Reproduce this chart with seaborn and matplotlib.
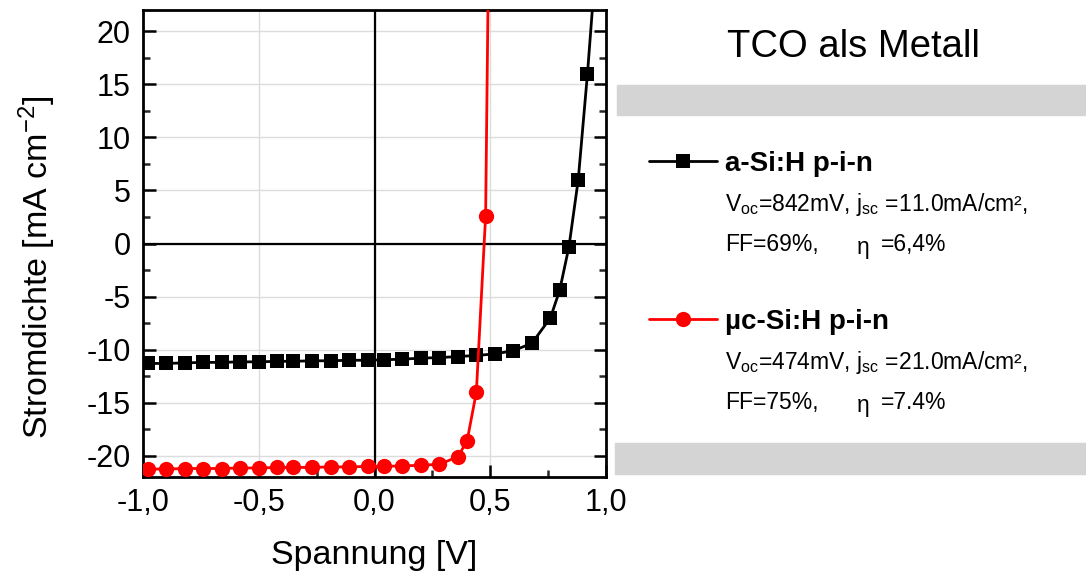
import matplotlib
matplotlib.use("Agg")
import matplotlib.pyplot as plt
from matplotlib.lines import Line2D
from matplotlib.patches import Rectangle
from matplotlib.ticker import MultipleLocator, FuncFormatter
import seaborn as sns
import pandas as pd

# J-V characteristics of two p-i-n cells (voltage in V, current density in mA/cm^2)
voltage_asi = [-0.98, -0.90, -0.82, -0.74, -0.66, -0.58, -0.50, -0.42, -0.35, -0.27,
               -0.19, -0.11, -0.03, 0.04, 0.12, 0.20, 0.28, 0.36, 0.44, 0.52,
               0.60, 0.68, 0.76, 0.80, 0.84, 0.88, 0.92, 0.96]
current_asi = [-11.3, -11.3, -11.25, -11.2, -11.2, -11.15, -11.15, -11.1, -11.1, -11.05,
               -11.05, -11.0, -11.0, -10.95, -10.9, -10.8, -10.75, -10.65, -10.55, -10.4,
               -10.1, -9.4, -7.0, -4.4, -0.3, 6.0, 16.0, 27.5]

voltage_uc = [-0.98, -0.90, -0.82, -0.74, -0.66, -0.58, -0.50, -0.42, -0.35, -0.27,
              -0.19, -0.11, -0.03, 0.04, 0.12, 0.20, 0.28, 0.36, 0.40, 0.44,
              0.48, 0.52]
current_uc = [-21.25, -21.25, -21.2, -21.2, -21.2, -21.15, -21.15, -21.1, -21.1, -21.1,
              -21.05, -21.05, -21.0, -21.0, -20.95, -20.9, -20.8, -20.1, -18.6, -14.0,
              2.6, 80.0]

series_names = ["a-Si:H p-i-n", "µc-Si:H p-i-n"]
series_colors = ["black", "red"]
series_markers = ["s", "o"]
series_info = [
    (r"V$_{\mathrm{oc}}$=842mV, j$_{\mathrm{sc}}$ =11.0mA/cm²,", "FF=69%,", "=6,4%"),
    (r"V$_{\mathrm{oc}}$=474mV, j$_{\mathrm{sc}}$ =21.0mA/cm²,", "FF=75%,", "=7.4%"),
]

x_ticks = [-1.0, -0.5, 0.0, 0.5, 1.0]
y_ticks = [-20, -15, -10, -5, 0, 5, 10, 15, 20]

sns.set_theme(style="white")
plt.rcParams["font.family"] = ["Liberation Sans", "DejaVu Sans"]
plt.rcParams["axes.unicode_minus"] = False
plt.rcParams["text.color"] = "black"
plt.rcParams["axes.labelcolor"] = "black"
plt.rcParams["mathtext.fontset"] = "custom"
plt.rcParams["mathtext.rm"] = "Liberation Sans"
plt.rcParams["mathtext.it"] = "Liberation Sans:italic"
plt.rcParams["mathtext.bf"] = "Liberation Sans:bold"

W, H = 1086, 581
fig = plt.figure(figsize=(W / 100, H / 100), dpi=100)


def fx(px):
    return px / W


def fy(py):
    return 1 - py / H


ax = fig.add_axes([fx(143), fy(477), fx(606) - fx(143), fy(10) - fy(477)])

df = pd.concat([
    pd.DataFrame({"U": voltage_asi, "J": current_asi, "cell": series_names[0]}),
    pd.DataFrame({"U": voltage_uc, "J": current_uc, "cell": series_names[1]}),
])

MS = {"s": 10.5, "o": 11}

for name, color, marker in zip(series_names, series_colors, series_markers):
    sub = df[df["cell"] == name]
    sns.lineplot(data=sub, x="U", y="J", ax=ax, color=color, marker=marker,
                 markersize=MS[marker], markeredgewidth=0,
                 linewidth=2.0, sort=False, estimator=None, legend=False, zorder=4)

ax.set_xlim(-1.0, 1.0)
ax.set_ylim(-22, 22)
ax.set_xticks(x_ticks)
ax.set_yticks(y_ticks)
ax.xaxis.set_minor_locator(MultipleLocator(0.25))
ax.yaxis.set_minor_locator(MultipleLocator(2.5))
ax.xaxis.set_major_formatter(FuncFormatter(lambda v, p: f"{v:.1f}".replace(".", ",")))
ax.yaxis.set_major_formatter(FuncFormatter(lambda v, p: f"{v:.0f}"))

ax.grid(True, which="major", color="#dcdcdc", linewidth=1.0, zorder=0)
ax.axhline(0, color="black", linewidth=1.6, zorder=2)
ax.axvline(0, color="black", linewidth=1.6, zorder=2)

for s in ax.spines.values():
    s.set_visible(True)
    s.set_color("black")
    s.set_linewidth(2.0)

ax.tick_params(axis="both", which="major", direction="in", length=9, width=1.8,
               labelsize=22, colors="black", left=True, right=True, bottom=True, top=False)
ax.tick_params(axis="both", which="minor", direction="in", length=5, width=1.8,
               left=True, right=True, bottom=True, top=False)
ax.tick_params(axis="x", which="major", pad=8)
ax.tick_params(axis="y", which="major", pad=9)

ax.set_xlabel("Spannung [V]", fontsize=24.5, labelpad=16)
ax.set_ylabel(r"Stromdichte [mA cm$^{-2}$]", fontsize=24.5)
ax.yaxis.set_label_coords(-0.184, 0.45)

# legend panel on the right
fig.patches.append(Rectangle((fx(617), fy(115)), fx(1086) - fx(617), fy(85) - fy(115),
                             transform=fig.transFigure, color="#d4d4d4", zorder=0))
fig.patches.append(Rectangle((fx(615), fy(474)), fx(1086) - fx(615), fy(443) - fy(474),
                             transform=fig.transFigure, color="#d4d4d4", zorder=0))

fig.text(fx(853), fy(47), "TCO als Metall", fontsize=27.5, ha="center", va="center")

entry_y = [161, 319]
for (name, color, marker), (line1, ff, eta), y0 in zip(
        zip(series_names, series_colors, series_markers), series_info, entry_y):
    fig.add_artist(Line2D([fx(649), fx(717)], [fy(y0), fy(y0)], color=color,
                          linewidth=2.0, transform=fig.transFigure))
    fig.add_artist(Line2D([fx(683)], [fy(y0)], color=color, marker=marker,
                          markersize=MS[marker], markeredgewidth=0,
                          linestyle="none", transform=fig.transFigure))
    fig.text(fx(725), fy(y0 + 10), name, fontsize=20, fontweight="bold",
             ha="left", va="baseline")
    fig.text(fx(725), fy(y0 + 50), line1, fontsize=16.5, ha="left", va="baseline")
    fig.text(fx(725), fy(y0 + 90), ff, fontsize=16.5, ha="left", va="baseline")
    fig.text(fx(857), fy(y0 + 93), "η", fontsize=16.5, ha="left", va="baseline")
    fig.text(fx(881), fy(y0 + 90), eta, fontsize=16.5, ha="left", va="baseline")

fig.savefig("out.png", dpi=100, facecolor="white")
